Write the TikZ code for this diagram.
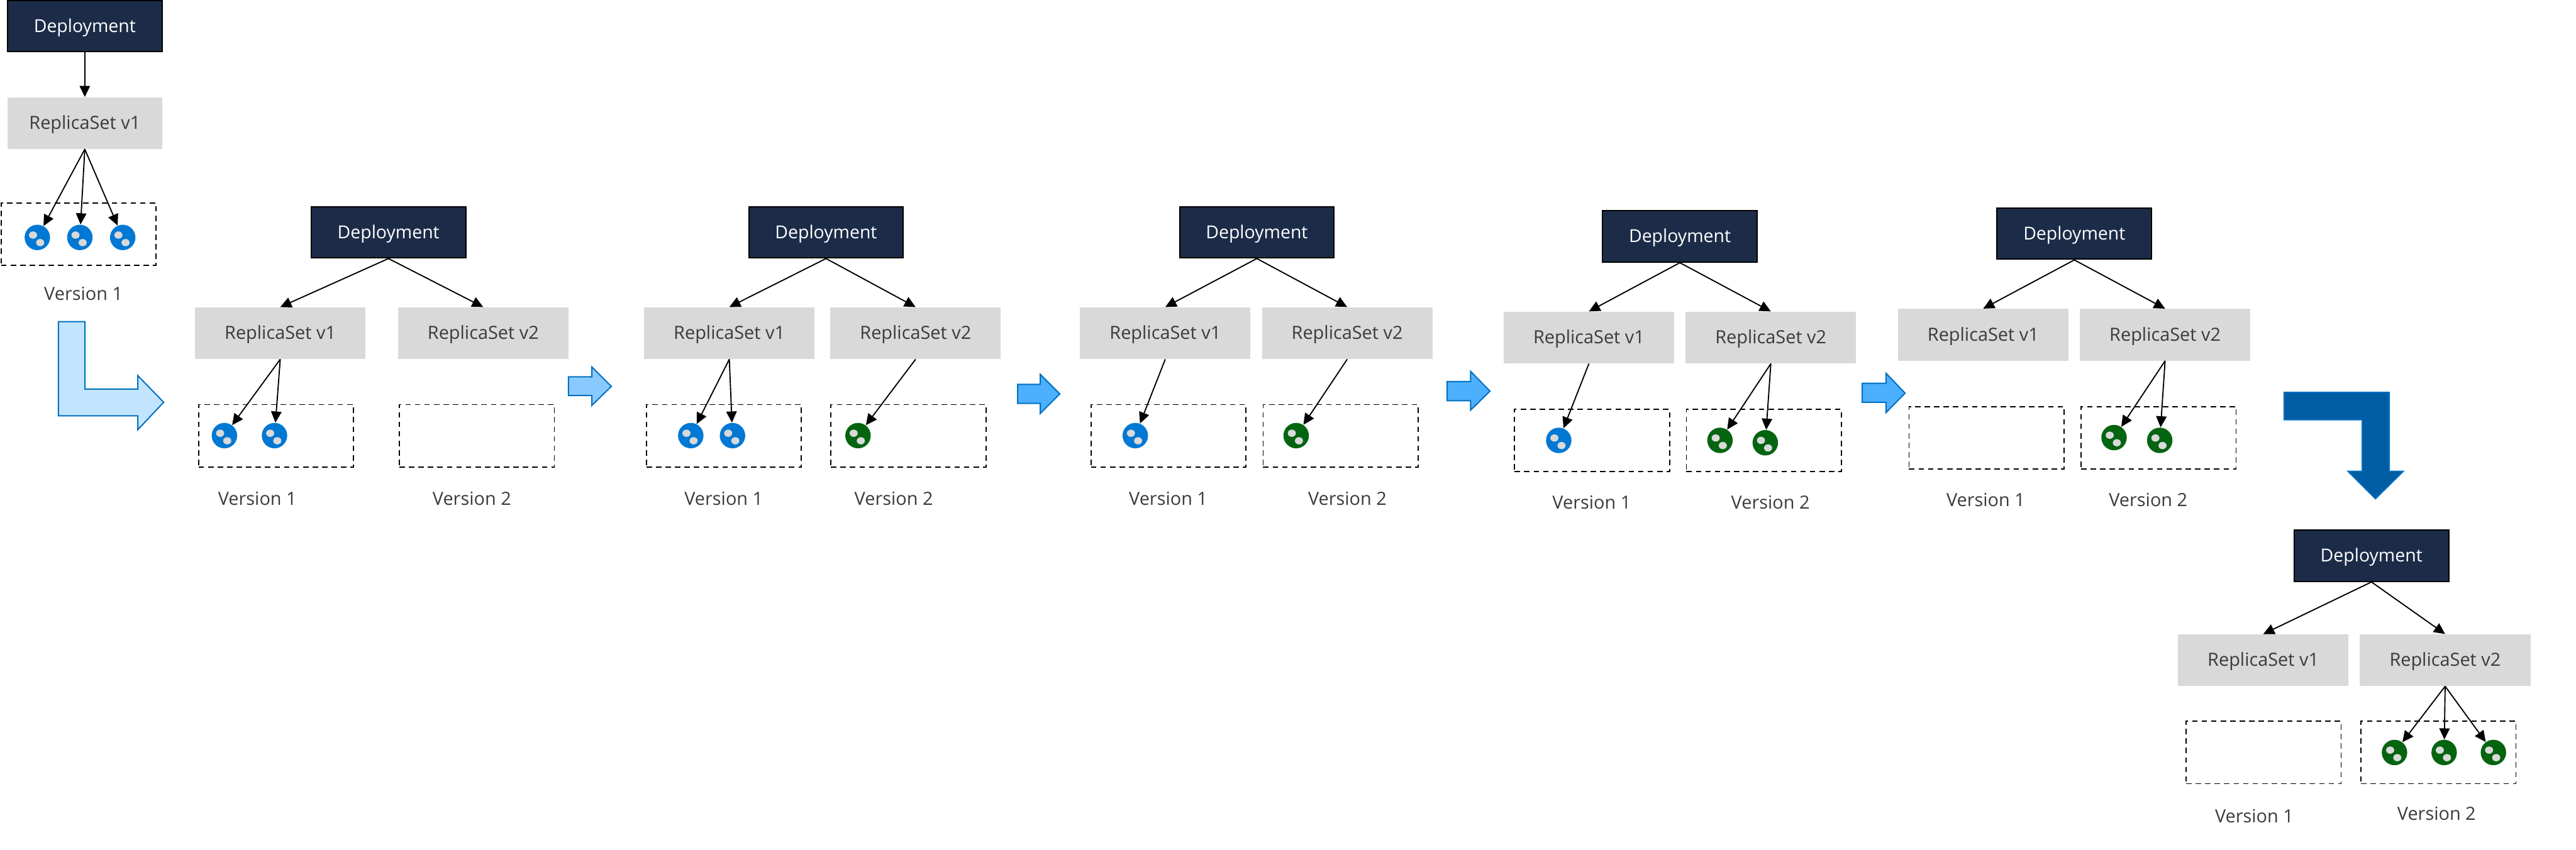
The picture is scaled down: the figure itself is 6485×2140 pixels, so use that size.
\documentclass[tikz,border=0pt]{standalone}
\usepackage{fontspec}
\setmainfont{Open Sans}
\usetikzlibrary{arrows.meta}

\definecolor{depnavy}{HTML}{1C2C48}
\definecolor{rsgray}{HTML}{D9D9D9}
\definecolor{textgray}{HTML}{3B3B3B}
\definecolor{podblue}{HTML}{0078D4}
\definecolor{podgreen}{HTML}{056410}
\definecolor{edgeblue}{HTML}{0070C0}
\definecolor{paleblue}{HTML}{C2E4FF}
\definecolor{softblue}{HTML}{8AC9FF}
\definecolor{midblue}{HTML}{4DAFFF}
\definecolor{deepblue}{HTML}{005CA3}

\begin{document}
\begin{tikzpicture}[
    x=0.01cm,
    y=-0.01cm,
    >={Triangle[length=8pt,width=7.5pt]},
    every node/.style={align=center},
    dep/.style={
        draw=black,
        line width=0.9pt,
        fill=depnavy,
        text=white,
        font=\fontsize{12.8}{16}\selectfont,
        text height=10pt,
        text depth=1.2pt,
        minimum width=3.89cm,
        minimum height=1.29cm,
        inner sep=0pt
    },
    rs/.style={
        fill=rsgray,
        text=textgray,
        font=\fontsize{13}{16}\selectfont,
        text height=10pt,
        text depth=1.2pt,
        minimum width=4.29cm,
        minimum height=1.30cm,
        inner sep=0pt
    },
    slot/.style={
        draw=black,
        line width=0.8pt,
        dash pattern=on 3.9pt off 2.9pt,
        minimum width=3.90cm,
        minimum height=1.57cm,
        inner sep=0pt
    },
    pod/.style={
        circle,
        fill=#1,
        minimum size=0.64cm,
        inner sep=0pt,
        path picture={
            \fill[rsgray] ([xshift=-3.1pt,yshift=1.7pt]path picture bounding box.center) ellipse (2.9pt and 2.6pt);
            \fill[rsgray] ([xshift=2pt,yshift=-3.7pt]path picture bounding box.center) ellipse (2.9pt and 2.6pt);
        }
    },
    ver/.style={
        text=textgray,
        font=\fontsize{13}{15}\selectfont,
        inner sep=0pt
    },
    flow/.style={
        ->,
        line width=0.85pt,
        draw=black
    },
    bigarrow/.style={
        draw=edgeblue,
        line width=0.9pt,
        line join=miter,
        fill=#1
    }
]
\useasboundingbox (0,0) rectangle (6485,2140);

% first state
\node[dep] (dep0) at (213.5,66) {Deployment};
\node[rs, minimum width=3.90cm] (rs0) at (213.5,310) {ReplicaSet v1};
\node[slot] (slot0) at (198,590) {};
\node[pod=podblue] (pod01) at (94,598) {};
\node[pod=podblue] (pod02) at (201,598) {};
\node[pod=podblue] (pod03) at (309,598) {};
\node[ver] (ver0) at (210,740) {Version 1};
\draw[flow] (dep0) -- (rs0);
\draw[flow] (rs0.south) -- (pod01);
\draw[flow] (rs0.south) -- (pod02);
\draw[flow] (rs0.south) -- (pod03);

\draw[bigarrow=paleblue] (147,810) -- (214,810) -- (214,980) -- (347,980) -- (347,946) -- (412,1013) -- (347,1082) -- (347,1047) -- (147,1047) -- cycle;

% second state
\node[dep] (depa) at (978,585) {Deployment};
\node[rs] (rsa1) at (705.5,839) {ReplicaSet v1};
\node[rs] (rsa2) at (1216.5,839) {ReplicaSet v2};
\node[slot] (slota1) at (695,1097.5) {};
\node[slot] (slota2) at (1200.5,1097.5) {};
\node[pod=podblue] (poda1) at (565,1097) {};
\node[pod=podblue] (poda2) at (691,1097) {};
\node[ver] (vera1) at (648,1255) {Version 1};
\node[ver] (vera2) at (1188,1255) {Version 2};
\draw[flow] (depa.south) -- (rsa1.north);
\draw[flow] (depa.south) -- (rsa2.north);
\draw[flow] (rsa1.south) -- (poda1);
\draw[flow] (rsa1.south) -- (poda2);

\draw[bigarrow=softblue] (1431,949) -- (1490,949) -- (1490,924) -- (1539,973) -- (1490,1021) -- (1490,996) -- (1431,996) -- cycle;

% third state
\node[dep] (depb) at (2079.5,585) {Deployment};
\node[rs] (rsb1) at (1836,839) {ReplicaSet v1};
\node[rs] (rsb2) at (2305,839) {ReplicaSet v2};
\node[slot] (slotb1) at (1822.5,1097.5) {};
\node[slot] (slotb2) at (2287,1097.5) {};
\node[pod=podblue] (podb1) at (1739,1097) {};
\node[pod=podblue] (podb2) at (1844,1097) {};
\node[pod=podgreen] (podb3) at (2160,1097) {};
\node[ver] (verb1) at (1822,1255) {Version 1};
\node[ver] (verb2) at (2250,1255) {Version 2};
\draw[flow] (depb.south) -- (rsb1.north);
\draw[flow] (depb.south) -- (rsb2.north);
\draw[flow] (rsb1.south) -- (podb1);
\draw[flow] (rsb1.south) -- (podb2);
\draw[flow] (rsb2.south) -- (podb3);

\draw[bigarrow=midblue] (2562,968) -- (2619,968) -- (2619,943) -- (2668,992) -- (2619,1041) -- (2619,1016) -- (2562,1016) -- cycle;

% fourth state
\node[dep] (depc) at (3164,585) {Deployment};
\node[rs] (rsc1) at (2933.5,839) {ReplicaSet v1};
\node[rs] (rsc2) at (3391.5,839) {ReplicaSet v2};
\node[slot] (slotc1) at (2941.5,1097.5) {};
\node[slot] (slotc2) at (3375,1097.5) {};
\node[pod=podblue] (podc1) at (2858,1097) {};
\node[pod=podgreen] (podc2) at (3263,1097) {};
\node[ver] (verc1) at (2941,1255) {Version 1};
\node[ver] (verc2) at (3392,1255) {Version 2};
\draw[flow] (depc.south) -- (rsc1.north);
\draw[flow] (depc.south) -- (rsc2.north);
\draw[flow] (rsc1.south) -- (podc1);
\draw[flow] (rsc2.south) -- (podc2);

\draw[bigarrow=midblue] (3643,961) -- (3702,961) -- (3702,935) -- (3751,985) -- (3702,1033) -- (3702,1009) -- (3643,1009) -- cycle;

% fifth state
\node[dep] (depd) at (4229,595.5) {Deployment};
\node[rs] (rsd1) at (4000,850) {ReplicaSet v1};
\node[rs] (rsd2) at (4458,850) {ReplicaSet v2};
\node[slot] (slotd1) at (4008,1109) {};
\node[slot] (slotd2) at (4440.5,1109) {};
\node[pod=podblue] (podd1) at (3924,1109) {};
\node[pod=podgreen] (podd2) at (4330,1109) {};
\node[pod=podgreen] (podd3) at (4444,1115) {};
\node[ver] (verd1) at (4007,1265) {Version 1};
\node[ver] (verd2) at (4457,1265) {Version 2};
\draw[flow] (depd.south) -- (rsd1.north);
\draw[flow] (depd.south) -- (rsd2.north);
\draw[flow] (rsd1.south) -- (podd1);
\draw[flow] (rsd2.south) -- (podd2);
\draw[flow] (rsd2.south) -- (podd3);

\draw[bigarrow=midblue] (4688,965) -- (4748,965) -- (4748,940) -- (4796,990) -- (4748,1039) -- (4748,1013) -- (4688,1013) -- cycle;

% sixth state
\node[dep] (depe) at (5222,588.5) {Deployment};
\node[rs] (rse1) at (4992.5,843) {ReplicaSet v1};
\node[rs] (rse2) at (5450.5,843) {ReplicaSet v2};
\node[slot] (slote1) at (5001,1102.5) {};
\node[slot] (slote2) at (5434,1102.5) {};
\node[pod=podgreen] (pode1) at (5322,1102) {};
\node[pod=podgreen] (pode2) at (5437,1109) {};
\node[ver] (vere1) at (4999,1259) {Version 1};
\node[ver] (vere2) at (5408,1259) {Version 2};
\draw[flow] (depe.south) -- (rse1.north);
\draw[flow] (depe.south) -- (rse2.north);
\draw[flow] (rse2.south) -- (pode1);
\draw[flow] (rse2.south) -- (pode2);

\draw[bigarrow=deepblue] (5750,988) -- (6015,988) -- (6015,1187) -- (6050,1187) -- (5980,1256) -- (5911,1187) -- (5947,1187) -- (5947,1057) -- (5750,1057) -- cycle;

% last state
\node[dep] (depf) at (5970,1399.5) {Deployment};
\node[rs] (rsf1) at (5697.5,1662.5) {ReplicaSet v1};
\node[rs] (rsf2) at (6155.5,1662.5) {ReplicaSet v2};
\node[slot] (slotf1) at (5698.5,1895) {};
\node[slot] (slotf2) at (6138.5,1895) {};
\node[pod=podgreen] (podf1) at (6028,1895) {};
\node[pod=podgreen] (podf2) at (6153,1895) {};
\node[pod=podgreen] (podf3) at (6277,1895) {};
\node[ver] (verf1) at (5675,2055) {Version 1};
\node[ver] (verf2) at (6134,2048) {Version 2};
\draw[flow] (depf.south) -- (rsf1.north);
\draw[flow] (depf.south) -- (rsf2.north);
\draw[flow] (rsf2.south) -- (podf1);
\draw[flow] (rsf2.south) -- (podf2);
\draw[flow] (rsf2.south) -- (podf3);
\end{tikzpicture}
\end{document}
